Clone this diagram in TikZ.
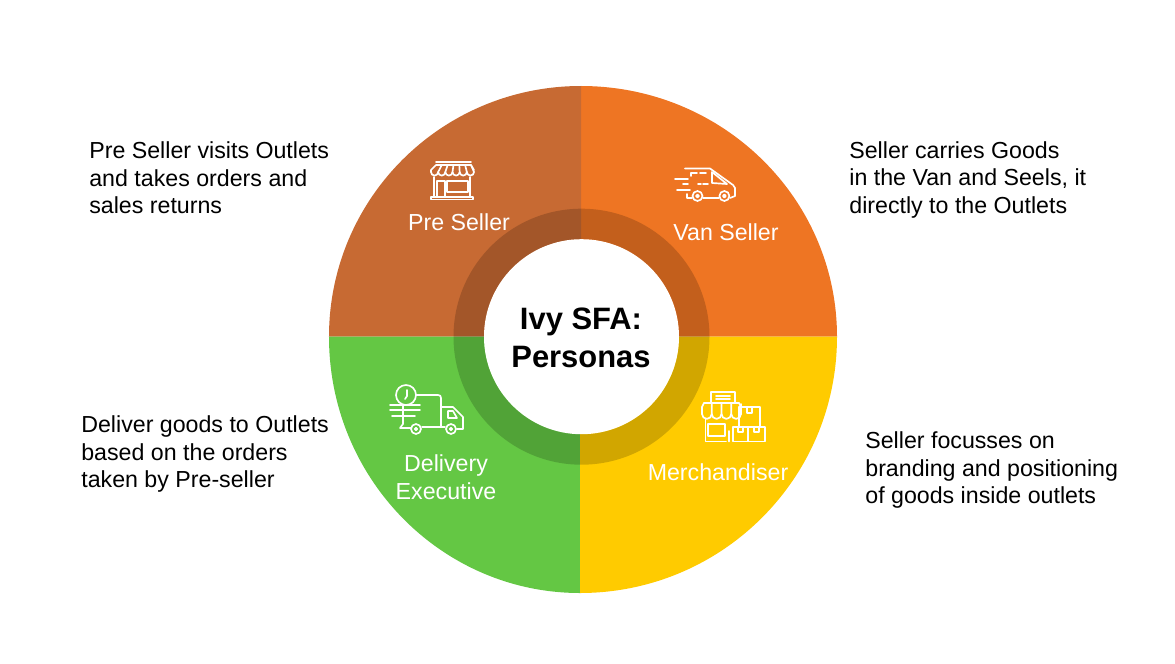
\documentclass[tikz,border=0pt]{standalone}
\usepackage{fontspec}
\setmainfont{Liberation Sans}
\definecolor{vancol}{HTML}{EE7523}
\definecolor{precol}{HTML}{C76A33}
\definecolor{delcol}{HTML}{64C744}
\definecolor{mercol}{HTML}{FFCB00}

\begin{document}
\begin{tikzpicture}[
    x=.02cm,
    y=.02cm,
    notetext/.style = {
      anchor = west,
      align = left,
      font = \fontsize{13.2pt}{15.7pt}\selectfont,
      inner sep = 0pt
    },
    persona/.style = {
      align = center,
      text = white,
      font = \fontsize{13.2pt}{15.7pt}\selectfont,
      inner sep = 0pt
    },
    heading/.style = {
      align = center,
      font = \fontsize{17.6pt}{21.6pt}\selectfont\bfseries,
      inner sep = 0pt
    },
    icon/.style = {
      draw = white,
      line width = .95pt,
      line join = round,
      line cap = round
    }
  ]
  \useasboundingbox (-581,336.7) rectangle (594,-326.3);
  \coordinate (C) at (.5,0);

  % quadrants
  \foreach \col/\ang/\cx/\xr/\yr in {vancol/0/0/256/250.7, precol/90/0/252/250.7, delcol/180/-1/251/256.3, mercol/270/-1/257/256.3}
    \fill[\col] (\cx,0) -- +({\xr*cos(\ang)},{\yr*sin(\ang)}) arc[start angle=\ang, delta angle=90, x radius=\xr, y radius=\yr] -- cycle;
  \fill[black, opacity=.18, even odd rule] (C) circle (128) (C) circle (97.5);
  \fill[white] (C) circle (97.5);

  \node[heading] (title) at (0,-1.3) {Ivy SFA:\\Personas};

  \node[persona] (pre) at (-122,114.7) {Pre Seller};
  \node[persona] (van) at (145,104.7) {Van Seller};
  \node[persona] (del) at (-135,-140.3) {Delivery\\Executive};
  \node[persona] (mer) at (137,-135.3) {Merchandiser};

  \node[notetext] (prenote) at (-492,158.7) {Pre Seller visits Outlets\\and takes orders and\\sales returns};
  \node[notetext] (vannote) at (268,156.7) {Seller carries Goods\\in the Van and Seels, it\\directly to the Outlets};
  \node[notetext] (delnote) at (-500,-117.3) {Deliver goods to Outlets\\based on the orders\\taken by Pre-seller};
  \node[notetext] (mernote) at (284,-133.3) {Seller focusses on\\branding and positioning\\of goods inside outlets};

  % icons, in picture pixels
  \begin{scope}[shift={(-581,336.7)}, yscale=-1]
    % shop
    \draw[icon] (436,162) -- (471,162);
    \draw[icon] (431,172) -- (431,170) -- (436,165) -- (471,165) -- (474,170);
    \foreach \i in {0,...,5}
      \draw[icon] (431+\i*7.17,172) arc[start angle=180, end angle=0, radius=3.58] -- ({436+(\i+1)*5.83},165);
    \draw[icon] (434,177) -- (434,197) (470,177) -- (470,197);
    \draw[icon] (437,197) -- (437,181) -- (445,181) -- (445,197);
    \draw[icon] (447,181) rectangle (468,192);
    \draw[icon] (431,197) rectangle (473,199.5);
    % van
    \draw[icon] (685,168.5) -- (710,168.5) -- (733,185) -- (735,188) -- (735,196) -- (730,198);
    \draw[icon] (719,198) -- (703,198);
    \draw[icon] (692,198) -- (687,198) -- (687,194);
    \draw[icon] (697.5,196) circle (5) (724.4,196) circle (5);
    \draw[icon] (697.5,196) circle (1.5) (724.4,196) circle (1.5);
    \draw[icon] (712,172) -- (712,183) -- (727,184) -- cycle;
    \draw[icon] (691,176) -- (691,173) -- (697,173) (700,173) -- (706,173) (698,184) -- (701,184) (703,184) -- (708,184);
    \draw[icon] (675,179) -- (688,179) (683,184) -- (688,184) (677,190) -- (690,190);
    % truck
    \draw[icon] (406,395) circle (10);
    \draw[icon] (407,390) -- (407,396) -- (405,399);
    \draw[icon] (416,395) -- (438,395) .. controls (440,395) and (441,396) .. (441,398) -- (441,426);
    \draw[icon] (441,407) -- (453,407) -- (463,417) -- (463,429) -- (457,429);
    \draw[icon] (448,411) -- (453,411) -- (457,418) -- (448,418) -- cycle;
    \draw[icon] (416,429) circle (5) (451,429) circle (5);
    \draw[icon] (416,429) circle (1.3) (451,429) circle (1.3);
    \draw[icon] (403,405) -- (403,424) -- (400,428) -- (411,428) (422,427) -- (445,427);
    \draw[icon] (390,405) -- (420,405) (390,410) -- (420,410) (392,416) -- (415,416);
    % market stall
    \draw[icon] (711,402) -- (711,392) -- (735,392) -- (735,402);
    \draw[icon] (716,396) -- (730,396) (716,399) -- (730,399);
    \draw[icon] (704,403) -- (739,403);
    \draw[icon] (704,403) -- (702,407) -- (702,414);
    \draw[icon] (739,403) -- (741,407) -- (741,414);
    \foreach \i in {0,...,3}
      \draw[icon] (702+\i*9.75,414) arc[start angle=180, end angle=0, radius=4.87] -- +(0,-10);
    \draw[icon] (705.5,419) -- (705.5,441.5) -- (726,441.5);
    \draw[icon] (708,424) -- (725,424) -- (725,436) -- (708,436) -- cycle;
    \draw[icon] (739,426) -- (739,407) -- (760,407) -- (760,426);
    \draw[icon] (747,407) -- (747,413) -- (752,413) -- (752,407);
    \draw[icon] (733,427) rectangle (748,441.5);
    \draw[icon] (748,427) rectangle (765,441.5);
    \draw[icon] (729,441.5) -- (729,431);
    \draw[icon] (738,427) -- (738,432) -- (743,432) -- (743,427);
    \draw[icon] (754,427) -- (754,432) -- (759,432) -- (759,427);
  \end{scope}
\end{tikzpicture}
\end{document}
